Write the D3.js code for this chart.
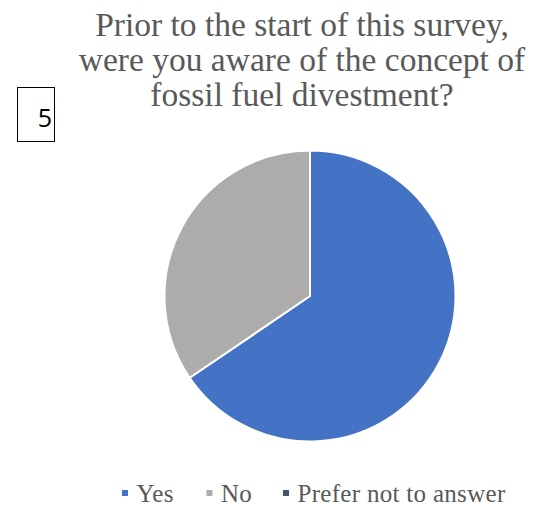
<!DOCTYPE html>
<html><head><meta charset="utf-8">
<script src="https://cdn.jsdelivr.net/npm/d3@7"></script>
<style>body{margin:0;background:#fff}svg{display:block}</style>
</head><body>
<svg id="c" width="539" height="506"></svg>
<script>
const categories = ["Yes", "No", "Prefer not to answer"];
const values = [65.5, 34.5, 0];
const colors = ["#4472C4", "#AEABAB", "#44546A"];
const titleLines = ["Prior to the start of this survey,", "were you aware of the concept of", "fossil fuel divestment?"];
const boxLabel = "5";

const svg = d3.select("#c");
const serif = "'Liberation Serif', serif";

// title
svg.append("g").selectAll("text").data(titleLines).join("text")
  .attr("x", 302).attr("y", (d, i) => 36 + i * 35)
  .attr("text-anchor", "middle")
  .attr("font-family", serif).attr("font-size", 33.5)
  .attr("fill", "#595959").text(d => d);

// box
svg.append("rect").attr("x", 17.5).attr("y", 87.5).attr("width", 37).attr("height", 54)
  .attr("fill", "#fff").attr("stroke", "#000").attr("stroke-width", 1);
svg.append("text").attr("x", 45).attr("y", 127).attr("text-anchor", "middle")
  .attr("font-family", "'Open Sans', 'Liberation Sans', sans-serif").attr("font-size", 25)
  .attr("fill", "#000").text(boxLabel);

// pie
const cx = 310, cy = 296, r = 145.5;
const pie = d3.pie().sort(null).value(d => d)(values);
const arc = d3.arc().innerRadius(0).outerRadius(r);
svg.append("g").attr("transform", `translate(${cx},${cy})`)
  .selectAll("path").data(pie).join("path")
  .attr("d", arc).attr("fill", (d, i) => colors[i])
  .attr("stroke", "#fff").attr("stroke-width", 2).attr("stroke-linejoin", "round");

// legend
const lg = svg.append("g");
const starts = [122, 206.5, 283];
categories.forEach((c, i) => {
  lg.append("rect").attr("x", starts[i]).attr("y", 490).attr("width", 6).attr("height", 6).attr("fill", colors[i]);
  lg.append("text").attr("x", starts[i] + 14.5).attr("y", 501.5)
    .attr("font-family", serif).attr("font-size", 25).attr("letter-spacing", 0.3)
    .attr("fill", "#595959").text(c);
});
</script>
</body></html>
